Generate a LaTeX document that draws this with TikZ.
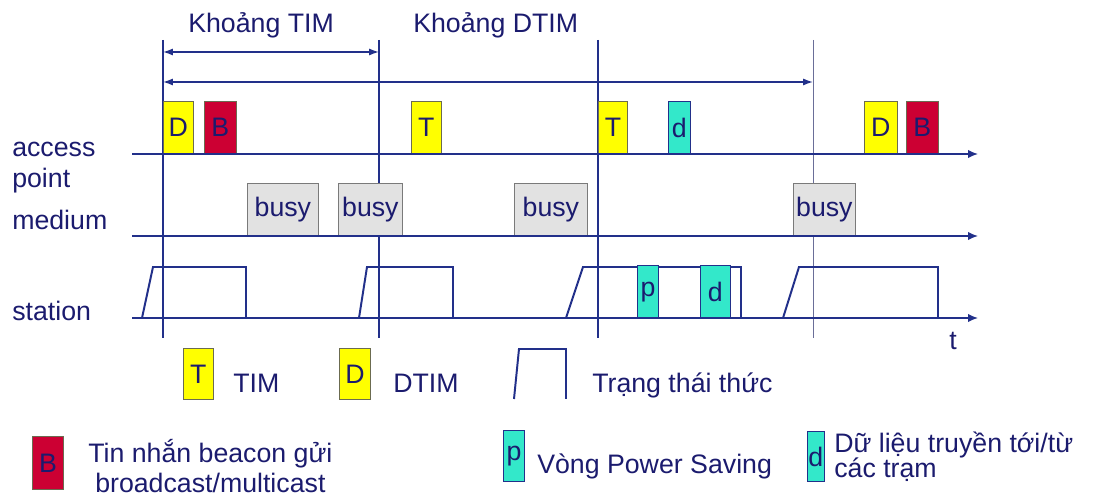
\documentclass[tikz,border=0pt]{standalone}
\usepackage{fontspec}
\setmainfont{Liberation Sans}
\usetikzlibrary{arrows.meta}
\definecolor{encre}{HTML}{1B1B6E}
\definecolor{trait}{HTML}{22308A}
\definecolor{jaune}{HTML}{FFFF00}
\definecolor{beacon}{HTML}{CC0033}
\definecolor{turquoise}{HTML}{33E8CA}
\definecolor{occupe}{HTML}{E2E2E2}
\definecolor{bord}{HTML}{6B6B50}
\definecolor{gris}{HTML}{7A7A7A}
\definecolor{fin}{HTML}{6A6E98}

\begin{document}
\begin{tikzpicture}[
  x=0.025cm, y=-0.025cm,
  font=\fontsize{19}{22}\selectfont, text=encre,
  libelle/.style={anchor=base west, inner sep=0pt},
  trame/.style={draw=bord, line width=0.5pt, anchor=south west, inner sep=0pt,
                minimum height=1.3cm},
  tim/.style={trame, fill=jaune, minimum width=0.75cm},
  bal/.style={trame, fill=beacon, minimum width=0.8cm},
  ps/.style={trame, fill=turquoise, draw=trait, minimum width=0.53cm},
  don/.style={trame, fill=turquoise, draw=trait},
  occ/.style={trame, fill=occupe, draw=gris},
  axe/.style={trait, line width=1.1pt, -{Latex[length=7pt, width=6pt]}},
  repere/.style={trait, line width=0.9pt},
  intervalle/.style={trait, line width=1pt,
                     {Latex[length=7pt, width=5pt]}-{Latex[length=7pt, width=5pt]}},
  eveil/.style={trait, line width=1.4pt, line join=miter},
]
\useasboundingbox (0,0) rectangle (1105,497);
% ---- repères verticaux des balises
\coordinate (r1h) at (163,40);  \coordinate (r1b) at (163,338);
\coordinate (r2h) at (379,40);  \coordinate (r2b) at (379,338);
\coordinate (r3h) at (598,40);  \coordinate (r3b) at (598,338);
\coordinate (r4h) at (813,40);  \coordinate (r4b) at (813,338);
\draw[repere] (r1h) -- (r1b);
\draw[repere] (r2h) -- (r2b);
\draw[repere] (r3h) -- (r3b);
\draw[fin, line width=0.6pt] (r4h) -- (r4b);
% ---- intervalles
\node[libelle] (ktim) at (188,33) {Khoảng TIM};
\node[libelle] (kdtim) at (413,33) {Khoảng DTIM};
\draw[intervalle] (163,52) -- (379,52);
\draw[intervalle] (163,82) -- (813,82);
% ---- les trois axes du temps
\coordinate (ap0) at (132,154); \coordinate (ap1) at (978,154);
\coordinate (me0) at (132,236); \coordinate (me1) at (978,236);
\coordinate (st0) at (132,318); \coordinate (st1) at (978,318);
\node[libelle] (acc) at (12,157) {access};
\node[libelle] (pt) at (12,188) {point};
\node[libelle] (med) at (12,230) {medium};
\node[libelle] (sta) at (12,321) {station};
\node[libelle] (t) at (949,350) {t};
% ---- access point
\node[tim] (d1) at (163,154) {D};
\node[bal] (b1) at (204,154) {B};
\node[tim] (t1) at (411,154) {T};
\node[tim, minimum width=0.73cm] (t2) at (598,154) {T};
\node[don, minimum width=0.55cm] (da) at (668,154) {d};
\node[tim, minimum width=0.82cm] (d2) at (864,154) {D};
\node[bal] (b2) at (906,154) {B};
% ---- medium
\node[occ, minimum width=1.775cm] (o1) at (247,236) {busy};
\node[occ, minimum width=1.6cm] (o2) at (338,236) {busy};
\node[occ, minimum width=1.825cm] (o3) at (514,236) {busy};
\node[occ, minimum width=1.55cm] (o4) at (793,236) {busy};
% ---- station : périodes d'éveil
\draw[eveil] (142,318) -- (153,267) -- (246,267) -- (246,318);
\draw[eveil] (359,318) -- (367,267) -- (453,267) -- (453,318);
\draw[eveil] (566,318) -- (583,267) -- (741,267) -- (741,318);
\draw[eveil] (783,318) -- (799,267) -- (938,267) -- (938,318);
\node[ps] (p1) at (637,318) {p};
\node[don, minimum width=0.75cm] (ds) at (700,318) {d};
\draw[axe] (ap0) -- (ap1);
\draw[axe] (me0) -- (me1);
\draw[axe] (st0) -- (st1);
% ---- légende
\node[tim, minimum height=1.28cm] (lt) at (183,400) {T};
\node[libelle] (ltim) at (233,393) {TIM};
\node[tim, minimum height=1.28cm, minimum width=0.78cm] (ld) at (339,400) {D};
\node[libelle] (ldtim) at (393,393) {DTIM};
\draw[eveil] (514,399) -- (519,349) -- (566,349) -- (566,399);
\node[libelle] (lev) at (592,393) {Trạng thái thức};
\node[bal, minimum width=0.78cm, minimum height=1.33cm] (lb) at (32,490) {B};
\node[libelle] (lbt1) at (88,463) {Tin nhắn beacon gửi};
\node[libelle] (lbt2) at (95,492) {broadcast/multicast};
\node[ps, minimum height=1.28cm] (lp) at (503,482) {p};
\node[libelle] (lpt) at (537,473) {Vòng Power Saving};
\node[don, minimum width=0.42cm, minimum height=1.25cm] (ldd) at (807,482) {d};
\node[libelle] (ldt1) at (834,452) {Dữ liệu truyền tới/từ};
\node[libelle] (ldt2) at (834,477) {các trạm};
\end{tikzpicture}
\end{document}
